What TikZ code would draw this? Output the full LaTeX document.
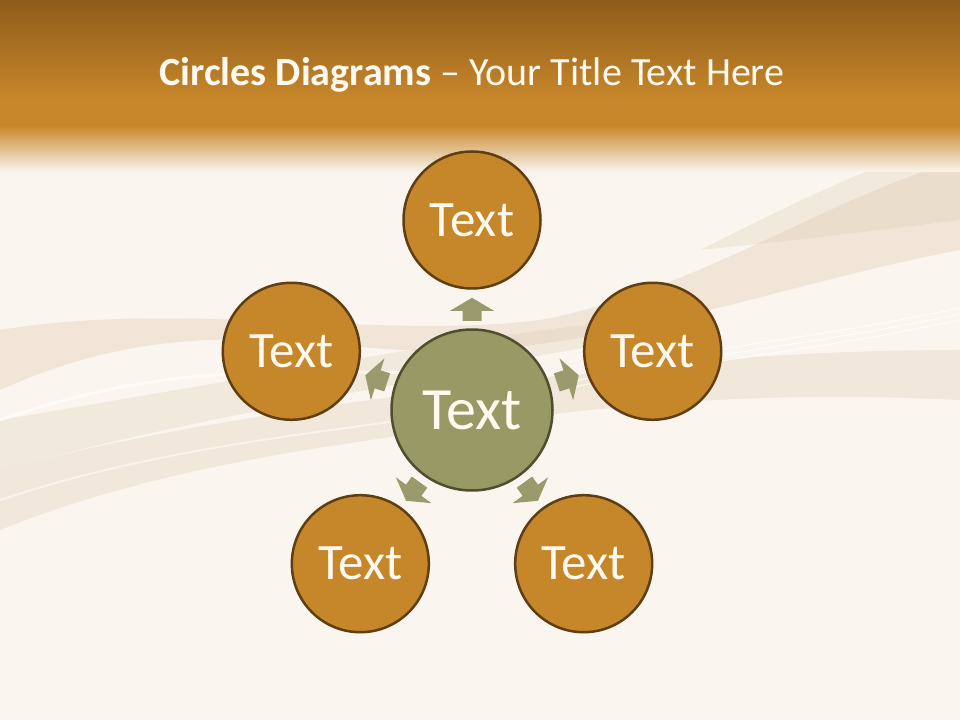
\documentclass[tikz,border=0pt]{standalone}
\usepackage{fontspec}
\setmainfont{Carlito}
\usetikzlibrary{calc}
\definecolor{cream}{HTML}{FAF5EE}
\definecolor{barTop}{HTML}{8E5C1B}
\definecolor{barMid}{HTML}{C8872A}
\definecolor{orangeFill}{HTML}{C6862A}
\definecolor{orangeLine}{HTML}{5E3E12}
\definecolor{oliveFill}{HTML}{999966}
\definecolor{oliveLine}{HTML}{4F4F30}
\definecolor{arrowCol}{HTML}{9A9A6C}
\definecolor{waveCol}{HTML}{D9C2A3}
\definecolor{txtCol}{HTML}{FFF9F0}
\tikzset{
  outerc/.style={circle, fill=orangeFill, draw=orangeLine, line width=2.5pt,
    minimum size=137pt, inner sep=0pt, text=txtCol, font=\fontsize{51}{55}\selectfont},
  centerc/.style={circle, fill=oliveFill, draw=oliveLine, line width=2.5pt,
    minimum size=161pt, inner sep=0pt, text=txtCol, font=\fontsize{60}{64}\selectfont},
  blockarrow/.style={fill=arrowCol},
}
\begin{document}
\begin{tikzpicture}[x=1pt,y=1pt]
\useasboundingbox (0,0) rectangle (960,720);
% background
\fill[cream] (0,0) rectangle (960,720);
% waves
\begin{scope}
\fill[waveCol,opacity=0.30] (0,330) .. controls (200,420) and (330,360) .. (480,370)
  .. controls (640,380) and (800,440) .. (960,470) -- (960,560)
  .. controls (820,520) and (700,430) .. (540,400)
  .. controls (380,380) and (180,420) .. (0,390) -- cycle;
\fill[waveCol,opacity=0.25] (0,190) .. controls (150,250) and (300,270) .. (440,290)
  .. controls (600,315) and (760,330) .. (960,320) -- (960,370)
  .. controls (760,370) and (600,350) .. (440,330)
  .. controls (300,310) and (150,290) .. (0,250) -- cycle;
\fill[waveCol,opacity=0.22] (0,250) .. controls (150,290) and (260,310) .. (420,340)
  .. controls (520,360) and (560,370) .. (640,380) -- (640,400)
  .. controls (500,390) and (300,350) .. (0,300) -- cycle;
\fill[waveCol,opacity=0.22] (700,470) .. controls (800,520) and (880,560) .. (960,580)
  -- (960,500) .. controls (880,490) and (800,480) .. (700,470) -- cycle;
\foreach \d in {0,6,12}{
  \draw[white,opacity=0.7,line width=1.2pt] (560,\d+330) .. controls (700,\d+360) and (820,\d+370) .. (960,\d+400);
}
\draw[white,opacity=0.6,line width=3pt] (0,300) .. controls (200,370) and (330,340) .. (480,350);
\draw[white,opacity=0.5,line width=2pt] (0,220) .. controls (150,270) and (300,285) .. (440,305);
\end{scope}
% title bar
\shade[top color=barTop, bottom color=barMid] (0,720) rectangle (960,620);
\fill[barMid] (0,620) rectangle (960,594);
\shade[top color=barMid, bottom color=cream] (0,594.5) rectangle (960,548);
\node[font=\fontsize{40}{46}\selectfont, text=txtCol] (title) at (472,645)
  {\textbf{Circles Diagrams} – Your Title Text Here};
% circles
\node[centerc] (c) at (472,310) {Text};
\node[outerc] (o1) at ($(c)+(90:190)$) {Text};
\node[outerc] (o2) at ($(c)+(18:190)$) {Text};
\node[outerc] (o3) at ($(c)+(-54:190)$) {Text};
\node[outerc] (o4) at ($(c)+(-126:190)$) {Text};
\node[outerc] (o5) at ($(c)+(162:190)$) {Text};
% block arrows
\foreach \i/\a in {1/90,2/18,3/-54,4/-126,5/162}{
  \coordinate (m\i) at ($(c)!0.53!(o\i)$);
  \fill[blockarrow, shift={(m\i)}, rotate=\a]
    (-11.5,-9.5) -- (-1.5,-9.5) -- (-1.5,-22) -- (11.5,0) -- (-1.5,22) -- (-1.5,9.5) -- (-11.5,9.5) -- cycle;
}
\end{tikzpicture}
\end{document}
